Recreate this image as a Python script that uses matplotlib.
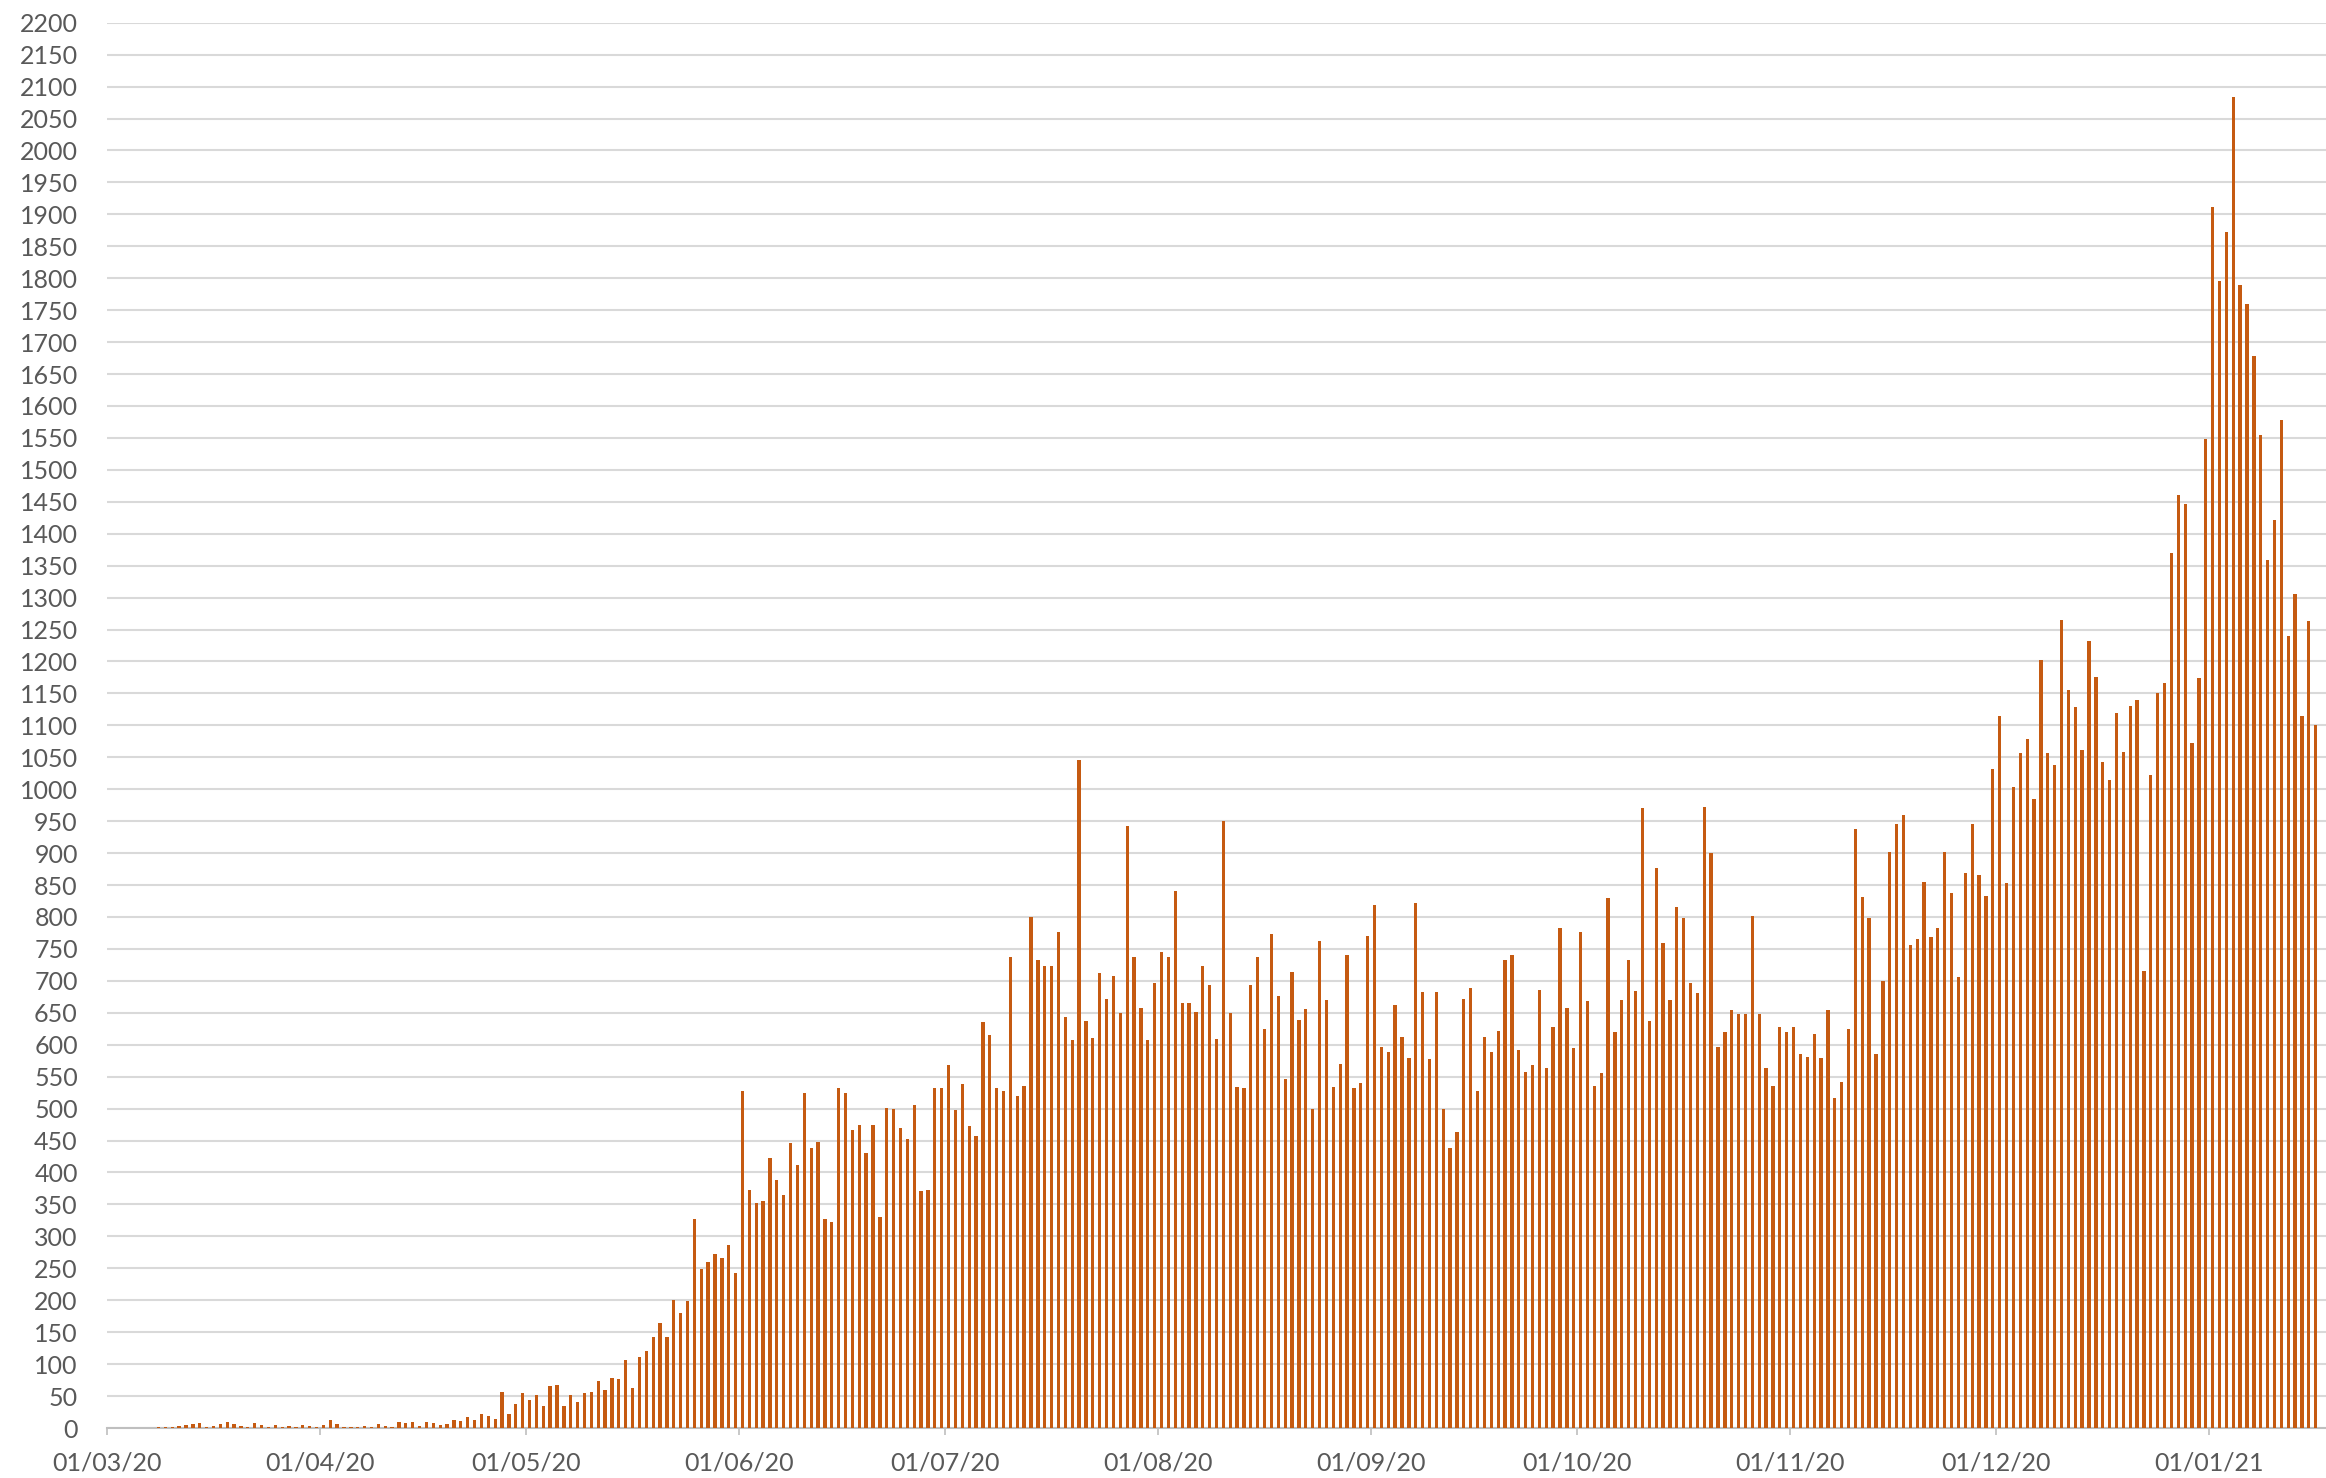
import numpy as np
import pandas as pd
import matplotlib
matplotlib.use("Agg")
import matplotlib.pyplot as plt
import matplotlib.dates as mdates

# daily values, one list per month
mar_20 = [0, 0, 0, 0, 0, 0, 0, 1, 1, 2, 3, 5, 7, 8, 2, 3, 6, 9, 6, 3, 2, 8, 5, 2, 4, 2, 3, 1, 5, 3, 2]
apr_20 = [4, 12, 6, 1, 2, 2, 3, 2, 7, 3, 2, 9, 8, 9, 3, 10, 8, 5, 7, 13, 11, 17, 13, 22, 19, 14, 56, 22, 38, 55]
may_20 = [44, 52, 34, 65, 67, 34, 52, 40, 55, 57, 74, 59, 78, 76, 106, 63, 111, 120, 143, 164, 143, 200, 180,
          199, 327, 249, 260, 272, 266, 287, 243]
jun_20 = [527, 372, 352, 356, 423, 388, 365, 446, 411, 525, 438, 448, 327, 323, 532, 525, 466, 474, 430, 474,
          331, 501, 499, 469, 453, 506, 371, 373, 532, 532]
jul_20 = [568, 498, 539, 472, 457, 635, 616, 532, 527, 738, 520, 535, 800, 733, 723, 723, 776, 643, 608, 1045,
          637, 610, 713, 671, 708, 650, 942, 738, 657, 608, 696]
aug_20 = [745, 737, 841, 666, 666, 651, 724, 693, 609, 951, 649, 534, 532, 693, 737, 624, 774, 676, 547, 714,
          639, 656, 499, 763, 670, 534, 570, 741, 532, 540, 770]
sep_20 = [819, 597, 589, 662, 612, 579, 822, 682, 577, 682, 500, 439, 464, 672, 689, 527, 612, 589, 622, 733,
          741, 591, 557, 568, 686, 563, 627, 782, 658, 595]
oct_20 = [777, 669, 535, 555, 830, 620, 670, 732, 684, 970, 637, 877, 760, 670, 816, 798, 696, 681, 972, 900,
          596, 620, 655, 648, 648, 801, 648, 563, 535, 628, 620]
nov_20 = [628, 585, 581, 617, 579, 654, 517, 542, 624, 937, 831, 799, 585, 699, 901, 945, 960, 756, 765, 854,
          768, 783, 902, 837, 706, 869, 946, 865, 833, 1031]
dec_20 = [1115, 853, 1004, 1057, 1078, 984, 1203, 1057, 1038, 1265, 1156, 1128, 1061, 1232, 1176, 1043, 1015,
          1120, 1059, 1130, 1140, 716, 1023, 1151, 1167, 1370, 1460, 1447, 1072, 1174, 1548]
jan_21 = [1911, 1795, 1872, 2083, 1790, 1759, 1678, 1555, 1359, 1421, 1578, 1240, 1306, 1114, 1263, 1101]

start_date = "2020-03-01"
month_ticks = pd.date_range("2020-03-01", "2021-01-01", freq="MS")

values = mar_20 + apr_20 + may_20 + jun_20 + jul_20 + aug_20 + sep_20 + oct_20 + nov_20 + dec_20 + jan_21
dates = pd.date_range(start_date, periods=len(values), freq="D")

BAR_COLOR = "#C55A11"
GRID_COLOR = "#D9D9D9"
TEXT_COLOR = "#595959"

plt.rcParams["font.family"] = ["Lato", "DejaVu Sans"]

fig = plt.figure(figsize=(23.26, 14.78), dpi=100)
ax = fig.add_axes([107 / 2326, 50 / 1478, 1 - 107 / 2326, 1405.3 / 1478])

x = mdates.date2num(dates) + 0.5
ax.bar(x, values, width=0.48, color=BAR_COLOR, zorder=3)

ax.set_ylim(0, 2200)
ax.set_yticks(np.arange(0, 2201, 50))
ax.grid(axis="y", color=GRID_COLOR, linewidth=1.5, zorder=0)
ax.grid(axis="x", visible=False)

x0 = mdates.date2num(pd.Timestamp(start_date))
ax.set_xlim(x0, x0 + 323.0)
ax.set_xticks(mdates.date2num(month_ticks))
ax.xaxis.set_major_formatter(mdates.DateFormatter("%d/%m/%y"))

for side in ["top", "right", "left"]:
    ax.spines[side].set_visible(False)
ax.spines["bottom"].set_color("#BFBFBF")
ax.spines["bottom"].set_linewidth(1.5)

ax.tick_params(axis="y", length=0, pad=21, labelsize=18, labelcolor=TEXT_COLOR)
ax.tick_params(axis="x", length=5, width=1.2, color="#BFBFBF", pad=12, labelsize=18, labelcolor=TEXT_COLOR)

fig.savefig("out.png", dpi=100, facecolor="white")
